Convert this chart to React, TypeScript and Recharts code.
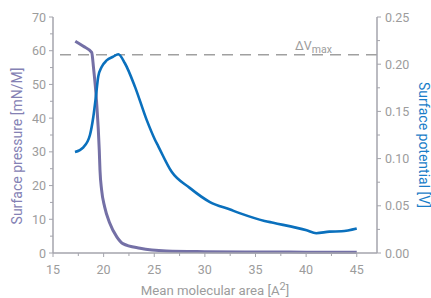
import { Line, LineChart, ReferenceLine, XAxis, YAxis } from "recharts";

// surface pressure isotherm (left axis)
const pressureArea = [17.2, 18.0, 18.82, 19.0, 19.3, 19.57, 19.64, 19.8, 20.1, 20.6, 21.3, 21.9, 23.6, 26.2, 30, 35, 40, 45];
const pressureValues = [62.8, 61.3, 59.5, 55, 45, 30.5, 24.6, 18.7, 13.7, 8.9, 4.8, 2.8, 1.4, 0.6, 0.4, 0.3, 0.25, 0.2];

// surface potential (right axis)
const potentialArea = [17.17, 18.0, 18.65, 18.98, 19.24, 19.47, 19.8, 20.3, 20.95, 21.45, 22.1, 23.1, 24.25, 25.07, 25.4, 26.72, 28.5, 30.5, 32.5, 33.5, 35.9, 36.75, 40.05, 41.0, 42.3, 43.5, 45.0];
const potentialValues = [0.107, 0.112, 0.125, 0.144, 0.166, 0.187, 0.197, 0.204, 0.208, 0.2105, 0.201, 0.176, 0.141, 0.12, 0.113, 0.086, 0.069, 0.054, 0.046, 0.042, 0.034, 0.032, 0.024, 0.021, 0.0226, 0.023, 0.026];

const xTicks = [15, 17.5, 20, 22.5, 25, 27.5, 30, 32.5, 35, 37.5, 40, 42.5, 45];
const leftTicks = [0, 5, 10, 15, 20, 25, 30, 35, 40, 45, 50, 55, 60, 65, 70];
const rightTicks = [0, 0.025, 0.05, 0.075, 0.1, 0.125, 0.15, 0.175, 0.2, 0.225, 0.25];
const deltaVMax = 0.21;

const pressureData = pressureArea.map((x, i) => ({ x, p: pressureValues[i] }));
const potentialData = potentialArea.map((x, i) => ({ x, v: potentialValues[i] }));

const FONT = "Roboto, sans-serif";
const TICK = "#9c9c9c";
const AXIS = "#a4a4ac";
const PURPLE = "#7470a6";
const BLUE = "#0a70bd";

const XTick = ({ x, y, payload }: any) => {
  const major = payload.value % 5 === 0;
  return (
    <g>
      <line x1={x} x2={x} y1={y} y2={y + (major ? 4 : 3)} stroke={AXIS} strokeWidth={1} />
      {major && (
        <text x={x} y={y + 21} textAnchor="middle" fill={TICK} fontSize={12.5} fontFamily={FONT}>
          {payload.value}
        </text>
      )}
    </g>
  );
};

const LeftTick = ({ x, y, payload }: any) => {
  const major = payload.value % 10 === 0;
  return (
    <g>
      <line x1={x - (major ? 4 : 3)} x2={x} y1={y} y2={y} stroke={AXIS} strokeWidth={1} />
      {major && (
        <text x={x - 7} y={y + 4.5} textAnchor="end" fill={TICK} fontSize={12.5} fontFamily={FONT}>
          {payload.value}
        </text>
      )}
    </g>
  );
};

const RightTick = ({ x, y, payload }: any) => {
  const major = Math.round(payload.value * 1000) % 50 === 0;
  return (
    <g>
      <line x1={x} x2={x + (major ? 4 : 3)} y1={y} y2={y} stroke={AXIS} strokeWidth={1} />
      {major && (
        <text x={x + 8} y={y + 4.5} textAnchor="start" fill={TICK} fontSize={12.5} fontFamily={FONT}>
          {payload.value.toFixed(2)}
        </text>
      )}
    </g>
  );
};

const LeftTitle = () => {
  const cx = 17;
  const cy = 146;
  return (
    <text x={cx} y={cy} transform={`rotate(-90 ${cx} ${cy})`} textAnchor="middle" dominantBaseline="central" fill="#8481b4" fontSize={14} fontFamily={FONT}>
      Surface pressure [mN/M]
    </text>
  );
};

const RightTitle = () => {
  const cx = 424;
  const cy = 145;
  return (
    <text x={cx} y={cy} transform={`rotate(90 ${cx} ${cy})`} textAnchor="middle" dominantBaseline="central" fill="#1a7dc8" fontSize={14} fontFamily={FONT}>
      Surface potential [V]
    </text>
  );
};

const BottomTitle = ({ viewBox }: any) => (
  <text x={viewBox.x + viewBox.width / 2} y={295} textAnchor="middle" fill={TICK} fontSize={13.2} fontFamily={FONT}>
    Mean molecular area [A
    <tspan dy={-5} fontSize={11}>2</tspan>
    <tspan dy={5}>]</tspan>
  </text>
);

const DeltaLabel = ({ viewBox }: any) => (
  <text x={viewBox.x + 242} y={viewBox.y - 5} fill={TICK} fontSize={12.5} fontFamily={FONT}>
    ΔV
    <tspan dy={3} fontSize={10.5}>max</tspan>
  </text>
);

export default function App() {
  return (
    <div style={{ position: "absolute", left: 0, top: 0, background: "#fff" }}>
      <LineChart width={431} height={298} margin={{ top: 17, right: 0, bottom: 0, left: 0 }}>
        <XAxis
          dataKey="x"
          type="number"
          domain={[15, 47]}
          ticks={xTicks}
          interval={0}
          allowDataOverflow
          height={45}
          tickSize={0}
          tickMargin={0}
          tickLine={false}
          tick={<XTick />}
          axisLine={{ stroke: AXIS, strokeWidth: 1.5 }}
          label={<BottomTitle />}
        />
        <YAxis
          yAxisId="left"
          orientation="left"
          domain={[0, 70]}
          ticks={leftTicks}
          interval={0}
          width={53}
          tickSize={0}
          tickMargin={0}
          tickLine={false}
          tick={<LeftTick />}
          axisLine={{ stroke: AXIS, strokeWidth: 1.5 }}
          label={<LeftTitle />}
        />
        <YAxis
          yAxisId="right"
          orientation="right"
          domain={[0, 0.25]}
          ticks={rightTicks}
          interval={0}
          width={54}
          tickSize={0}
          tickMargin={0}
          tickLine={false}
          tick={<RightTick />}
          axisLine={{ stroke: AXIS, strokeWidth: 1.5 }}
          label={<RightTitle />}
        />
        <ReferenceLine
          yAxisId="right"
          y={deltaVMax}
          stroke="#a0a0a0"
          strokeWidth={1.3}
          strokeDasharray="11 7"
          label={<DeltaLabel />}
        />
        <Line
          yAxisId="left"
          data={pressureData}
          dataKey="p"
          type="monotone"
          stroke={PURPLE}
          strokeWidth={3}
          dot={false}
          isAnimationActive={false}
        />
        <Line
          yAxisId="right"
          data={potentialData}
          dataKey="v"
          type="monotone"
          stroke={BLUE}
          strokeWidth={2.6}
          dot={false}
          isAnimationActive={false}
        />
      </LineChart>
    </div>
  );
}
